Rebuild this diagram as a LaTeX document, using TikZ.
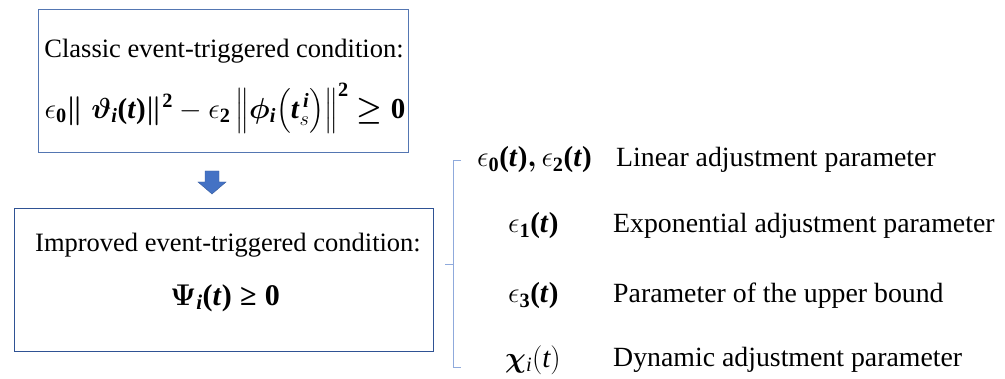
\RequirePackage{fix-cm}
\documentclass[tikz,border=0pt]{standalone}
\usepackage{amsmath,bm}
\usepackage{fontspec}
\setmainfont{Liberation Serif}
\definecolor{boxA}{RGB}{84,118,178}
\definecolor{boxB}{RGB}{47,82,148}
\definecolor{arrblue}{RGB}{68,114,196}
\definecolor{brk}{RGB}{143,170,220}
\newcommand{\bt}{\textbf{\textit{t}}}
\newcommand{\bi}{\textbf{\textit{i}}}
\newcommand{\bd}[1]{\textbf{#1}}
\newcommand{\lp}{\textbf{(}}
\newcommand{\rp}{\textbf{)}}
\tikzset{
  box/.style={line width=1.2pt, anchor=north west, inner sep=0pt},
  txt/.style={font=\fontsize{26.5}{30}\selectfont, inner sep=0pt},
  frm/.style={font=\fontsize{29}{33}\selectfont, inner sep=0pt},
  lbl/.style={font=\fontsize{27.8}{32}\selectfont, inner sep=0pt, anchor=west},
  sym/.style={font=\fontsize{29}{33}\selectfont, inner sep=0pt, anchor=west},
  brace/.style={draw=brk, line width=1pt}
}
\begin{document}
\begin{tikzpicture}[x=1pt,y=-1pt]
\useasboundingbox (0,0) rectangle (1005,379);
% boxes
\node[box, draw=boxA, minimum width=370pt, minimum height=143pt] (b1) at (38,9) {};
\node[box, draw=boxB, minimum width=419pt, minimum height=143pt] (b2) at (14,208) {};
\node[txt] (t1) at (224,51) {Classic event-triggered condition:};
\node[frm] (f1) at (225,108) {$\epsilon_{\bd{0}}\bm{\|}\;\bm{\vartheta}_{\bi}\lp\bt\rp\bm{\|}^{\bd{2}}-\epsilon_{\bd{2}}\,\bm{\big\|}\bm{\phi}_{\bi}\bm{\big(}\bt^{\,\bi}_{s}\bm{\big)}\bm{\big\|}^{\bd{2}}\bm{\geq}\bd{0}$};
\node[txt] (t2) at (228,245) {Improved event-triggered condition:};
\node[frm, font=\fontsize{30}{34}\selectfont] (f2) at (225,298) {$\bm{\Psi}_{\bi}$\lp\bt\rp\;\textbf{≥}\;\bd{0}};
% block arrow
\coordinate (ac) at (212,171);
\fill[arrblue, draw=arrblue!80!black, line width=0.4pt]
  ([xshift=-7pt]ac) -- ([xshift=7pt]ac) -- ([xshift=7pt,yshift=-11pt]ac)
  -- ([xshift=14pt,yshift=-11pt]ac) -- ([yshift=-23pt]ac)
  -- ([xshift=-14pt,yshift=-11pt]ac) -- ([xshift=-7pt,yshift=-11pt]ac) -- cycle;
% bracket
\coordinate (bt) at (453,161);
\coordinate (bb) at (453,368);
\coordinate (bm) at (453,265);
\draw[brace] ([xshift=8pt]bt) -- (bt) -- (bb) -- ([xshift=8pt]bb);
\draw[brace] (bm) -- ([xshift=-8pt]bm);
% rows
\node[sym] (s1) at (477,160) {$\epsilon_{\bd{0}}\lp\bt\rp\bm{,}\epsilon_{\bd{2}}\lp\bt\rp$};
\node[lbl] (l1) at (616,160) {Linear adjustment parameter};
\node[sym] (s2) at (508,226) {$\epsilon_{\bd{1}}\lp\bt\rp$};
\node[lbl] (l2) at (613,226) {Exponential adjustment parameter};
\node[sym] (s3) at (508,296) {$\epsilon_{\bd{3}}\lp\bt\rp$};
\node[lbl] (l3) at (613,296) {Parameter of the upper bound};
\node[sym] (s4) at (505,360) {$\bm{\chi}_{\textit{i}}(\textit{t})$};
\node[lbl] (l4) at (613,360) {Dynamic adjustment parameter};
\end{tikzpicture}
\end{document}
